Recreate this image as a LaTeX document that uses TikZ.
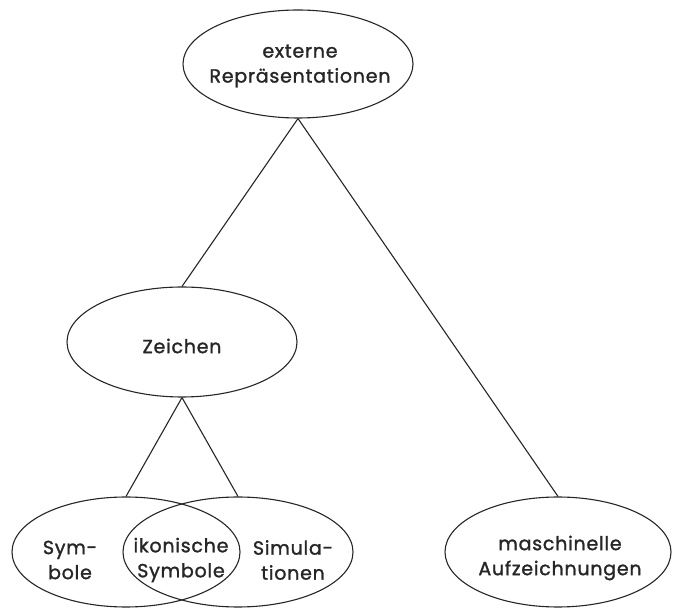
\documentclass[tikz,border=0pt]{standalone}
\usepackage{fontspec}
\setmainfont{Poppins}[FakeBold=1.4, LetterSpace=4]
\usetikzlibrary{shapes.geometric}
\tikzset{
  oval/.style={ellipse, draw=black!85, line width=1.1pt, minimum width=230pt, minimum height=110pt, inner sep=0pt},
  lbl/.style={align=center, font=\fontsize{19}{25}\selectfont, text=black!85, inner sep=0pt},
  conn/.style={draw=black!85, line width=1.1pt}
}
\begin{document}
\begin{tikzpicture}[x=1pt, y=-1pt]
\useasboundingbox (0,0) rectangle (673,609);
\node[oval, minimum height=108pt] (ext) at (298,64) {};
\node[lbl] (extt) at (300,66) {externe\\Repräsentationen};
\node[oval] (zei) at (182,342) {};
\node[lbl] (zeit) at (182,346) {Zeichen};
\node[oval, minimum width=228pt] (sym) at (126,552) {};
\node[oval] (sim) at (238,552) {};
\node[lbl] (symt) at (70,560) {Sym-\\bole};
\node[lbl] (ikot) at (181,560) {ikonische\\Symbole};
\node[lbl] (simt) at (293,560) {Simula-\\tionen};
\node[oval, minimum width=226pt] (mas) at (558,552) {};
\node[lbl] (mast) at (560,558) {maschinelle\\Aufzeichnungen};
\draw[conn] (ext.south) -- (zei.north);
\draw[conn] (ext.south) -- (mas.north);
\draw[conn] (zei.south) -- (sym.north);
\draw[conn] (zei.south) -- (sim.north);
\end{tikzpicture}
\end{document}
